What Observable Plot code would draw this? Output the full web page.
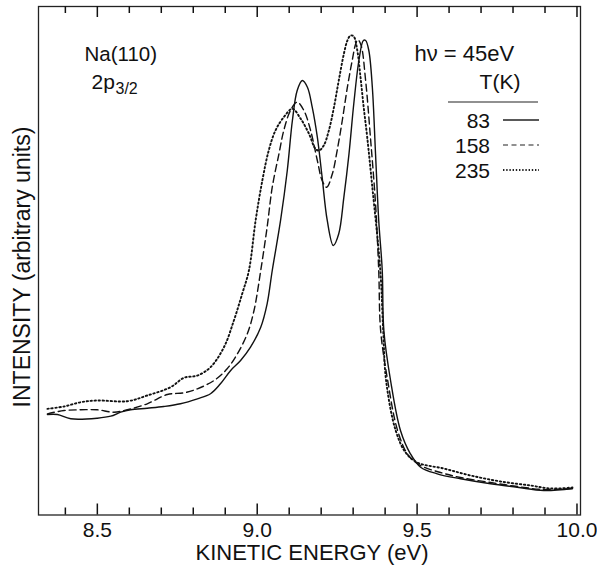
<!DOCTYPE html>
<html>
<head>
<meta charset="utf-8">
<script src="https://cdn.jsdelivr.net/npm/d3@7"></script>
<script src="https://cdn.jsdelivr.net/npm/@observablehq/plot@0.6"></script>
<style>
  html, body { margin: 0; padding: 0; background: #fff; }
  #chart svg { display: block; font-family: 'Liberation Sans', Arial, Helvetica, sans-serif; }
</style>
</head>
<body>
<div id="chart"></div>
<script>
// ---- Data ----
const temperatures = ["83", "158", "235"];

const energy83 = [8.344, 8.375, 8.417, 8.500, 8.542, 8.573, 8.604, 8.656, 8.708, 8.760, 8.813, 8.854, 8.885, 8.917, 8.948, 8.979, 9.011, 9.031, 9.047, 9.073, 9.094, 9.110, 9.125, 9.141, 9.157, 9.172, 9.188, 9.203, 9.219, 9.238, 9.255, 9.271, 9.287, 9.302, 9.318, 9.332, 9.339, 9.349, 9.360, 9.370, 9.380, 9.391, 9.396, 9.417, 9.448, 9.479, 9.511, 9.563, 9.636, 9.730, 9.813, 9.896, 9.986];
const intensity83 = [19.76, 19.76, 18.92, 19.04, 19.43, 20.22, 20.69, 21.00, 21.34, 21.87, 22.85, 23.84, 25.80, 28.42, 30.38, 33.00, 36.93, 41.53, 48.08, 57.92, 67.75, 77.58, 83.48, 85.45, 84.13, 80.20, 74.30, 66.43, 57.92, 53.00, 55.30, 62.50, 71.03, 80.87, 89.38, 93.31, 93.31, 91.35, 84.13, 71.03, 57.92, 48.08, 36.28, 26.45, 16.62, 12.04, 9.40, 8.10, 7.12, 6.14, 5.47, 4.82, 5.21];

const energy158 = [8.344, 8.396, 8.448, 8.500, 8.552, 8.594, 8.656, 8.719, 8.771, 8.813, 8.865, 8.906, 8.938, 8.969, 8.990, 9.011, 9.031, 9.047, 9.068, 9.083, 9.104, 9.125, 9.146, 9.167, 9.188, 9.203, 9.217, 9.235, 9.250, 9.266, 9.282, 9.297, 9.308, 9.315, 9.325, 9.339, 9.354, 9.370, 9.380, 9.386, 9.408, 9.439, 9.473, 9.511, 9.573, 9.636, 9.730, 9.814, 9.895, 9.986];
const intensity158 = [19.90, 20.55, 20.69, 20.69, 20.22, 20.69, 21.87, 23.70, 24.03, 24.82, 26.45, 28.75, 31.70, 35.63, 40.22, 48.08, 56.60, 64.46, 71.03, 75.61, 79.55, 81.18, 79.55, 75.61, 69.71, 65.78, 64.46, 67.10, 71.68, 77.58, 84.13, 89.38, 92.66, 93.45, 92.33, 85.45, 74.30, 61.20, 48.08, 36.28, 26.45, 16.62, 11.70, 9.73, 8.36, 7.37, 6.39, 5.60, 5.01, 5.21];

const energy235 = [8.344, 8.396, 8.448, 8.500, 8.594, 8.656, 8.729, 8.771, 8.813, 8.854, 8.896, 8.927, 8.953, 8.974, 8.995, 9.016, 9.036, 9.057, 9.083, 9.110, 9.136, 9.162, 9.182, 9.193, 9.208, 9.224, 9.240, 9.255, 9.271, 9.282, 9.292, 9.302, 9.313, 9.323, 9.333, 9.344, 9.360, 9.385, 9.394, 9.403, 9.433, 9.464, 9.501, 9.583, 9.667, 9.761, 9.855, 9.917, 9.986];
const intensity235 = [20.88, 21.34, 22.18, 22.52, 22.38, 23.50, 25.13, 26.98, 27.43, 29.07, 33.00, 38.25, 43.50, 48.08, 57.92, 65.78, 71.68, 75.61, 78.23, 79.88, 77.91, 74.96, 72.02, 71.68, 72.66, 75.61, 80.20, 85.45, 90.70, 93.31, 94.30, 94.10, 91.35, 86.10, 80.20, 74.30, 64.46, 48.08, 36.28, 26.45, 16.62, 12.29, 10.32, 9.14, 7.77, 6.59, 5.80, 5.21, 5.41];

const majorTicks = [8.5, 9.0, 9.5, 10.0];
const minorTicks = [8.4, 8.6, 8.7, 8.8, 8.9, 9.1, 9.2, 9.3, 9.4, 9.6, 9.7, 9.8, 9.9];
const xDomain = [8.316, 10.011];
const yDomain = [0, 100];

// ---- Build table ----
function series(t, xs, ys) { return xs.map((x, i) => ({T: t, energy: x, intensity: ys[i]})); }
const s83 = series("83", energy83, intensity83);
const s158 = series("158", energy158, intensity158);
const s235 = series("235", energy235, intensity235);

const font = "'Liberation Sans', Arial, Helvetica, sans-serif";
const W = 597, H = 567;
const mL = 38, mR = 17, mT = 6, mB = 52.5;
const frameH = H - mT - mB;
// tick lengths (pixels) expressed in y units
const majorK = 11 / frameH * (yDomain[1] - yDomain[0]);
const minorK = 7 / frameH * (yDomain[1] - yDomain[0]);
const yLo = yDomain[0], yHi = yDomain[1];

const plot = Plot.plot({
  width: W, height: H,
  marginLeft: mL, marginRight: mR, marginTop: mT, marginBottom: mB,
  x: {domain: xDomain, axis: null},
  y: {domain: yDomain, axis: null},
  marks: [
    Plot.frame({stroke: "#222", strokeWidth: 1.3}),
    // curves
    Plot.line(s83, {x: "energy", y: "intensity", curve: "catmull-rom", stroke: "#111", strokeWidth: 1.4}),
    Plot.line(s158, {x: "energy", y: "intensity", curve: "catmull-rom", stroke: "#111", strokeWidth: 1.4, strokeDasharray: "7,4"}),
    Plot.line(s235, {x: "energy", y: "intensity", curve: "catmull-rom", stroke: "#111", strokeWidth: 1.9, strokeDasharray: "1.4,2.6"}),
    // inward ticks at bottom and top
    Plot.ruleX(minorTicks, {x: d => d, y1: yLo, y2: yLo + minorK, stroke: "#111", strokeWidth: 1.5}),
    Plot.ruleX(majorTicks, {x: d => d, y1: yLo, y2: yLo + majorK, stroke: "#111", strokeWidth: 1.5}),
    Plot.ruleX(minorTicks, {x: d => d, y1: yHi, y2: yHi - minorK, stroke: "#111", strokeWidth: 1.5}),
    Plot.ruleX(majorTicks, {x: d => d, y1: yHi, y2: yHi - majorK, stroke: "#111", strokeWidth: 1.5}),
    // tick labels
    Plot.text(majorTicks, {x: d => d, frameAnchor: "bottom", dy: 7, lineAnchor: "top", text: d => d.toFixed(1), fontSize: 21, fill: "#111"}),
    // annotations
    Plot.text(["Na(110)"], {frameAnchor: "top-left", dx: 46, dy: 54, textAnchor: "start", lineAnchor: "bottom", fontSize: 20.5, fill: "#111"}),
    Plot.text(["2p"], {frameAnchor: "top-left", dx: 53, dy: 82, textAnchor: "start", lineAnchor: "bottom", fontSize: 21, fill: "#111"}),
    Plot.text(["3/2"], {frameAnchor: "top-left", dx: 77, dy: 87, textAnchor: "start", lineAnchor: "bottom", fontSize: 16, fill: "#111"}),
    Plot.text(["hν = 45eV"], {frameAnchor: "top-right", dx: -166, dy: 54, textAnchor: "start", lineAnchor: "bottom", fontSize: 22, fill: "#111"})
  ]
});

const svgSel = d3.select(plot);

// axis titles
const lg = svgSel.append("g").attr("font-family", font).attr("fill", "#111");
lg.append("text").attr("x", (mL + W - mR) / 2 + 3).attr("y", 560).attr("text-anchor", "middle")
  .attr("font-size", 22).text("KINETIC ENERGY (eV)");
lg.append("text").attr("transform", `translate(30,267) rotate(-90)`).attr("text-anchor", "middle")
  .attr("font-size", 23).text("INTENSITY (arbitrary units)");

// Legend (T(K) table) inside the frame
const g = svgSel.append("g").attr("font-family", font).attr("fill", "#111");
g.append("text").attr("x", 500).attr("y", 89).attr("text-anchor", "middle").attr("font-size", 21).text("T(K)");
g.append("line").attr("x1", 448).attr("x2", 538).attr("y1", 102).attr("y2", 102).attr("stroke", "#222").attr("stroke-width", 1.2);
const styles = [
  {dash: null, w: 1.3},
  {dash: "5,3.5", w: 1.2},
  {dash: "1.4,1.8", w: 1.8}
];
temperatures.forEach((t, i) => {
  const yb = 128 + i * 25;
  g.append("text").attr("x", 490).attr("y", yb).attr("text-anchor", "end").attr("font-size", 21).text(t);
  const ln = g.append("line").attr("x1", 503).attr("x2", 539).attr("y1", yb - 8).attr("y2", yb - 8)
    .attr("stroke", "#222").attr("stroke-width", styles[i].w);
  if (styles[i].dash) ln.attr("stroke-dasharray", styles[i].dash);
});

document.getElementById("chart").appendChild(plot);
</script>
</body>
</html>
